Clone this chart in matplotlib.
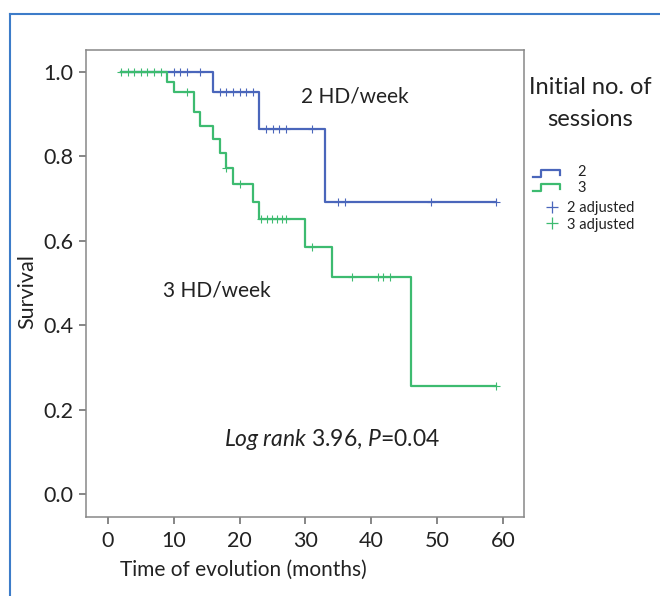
import numpy as np
import matplotlib
matplotlib.use("Agg")
import matplotlib.pyplot as plt
from matplotlib.lines import Line2D

# ---------------- data ----------------
blue_times = [2, 16, 23, 33, 59]
blue_surv = [1.0, 0.952, 0.866, 0.693, 0.693]
blue_censor = [10, 11, 12, 14, 17, 18, 19, 20, 21, 22, 24, 25, 26, 27, 31, 35, 36, 49, 59]

green_times = [2, 9, 10, 13, 14, 16, 17, 18, 19, 22, 23, 30, 34, 46, 59]
green_surv = [1.0, 0.976, 0.952, 0.905, 0.873, 0.841, 0.808, 0.772, 0.735, 0.692,
              0.651, 0.586, 0.513, 0.256, 0.256]
green_censor = [2, 3, 4, 5, 6, 7, 8, 12, 18, 20, 23.3, 24.1, 24.9, 25.7, 26.4, 27.1,
                31, 37, 41, 41.8, 42.9, 59]

x_ticks = [0, 10, 20, 30, 40, 50, 60]
y_ticks = [0.0, 0.2, 0.4, 0.6, 0.8, 1.0]
legend_labels = ["2", "3", "2 adjusted", "3 adjusted"]

BLUE = "#4a66bb"
GREEN = "#3dbb70"
TXT = "#222222"
FONT = "Lato"

plt.rcParams['font.family'] = [FONT, 'DejaVu Sans']
plt.rcParams['mathtext.fontset'] = 'custom'
plt.rcParams['mathtext.rm'] = FONT
plt.rcParams['mathtext.it'] = FONT + ':italic'

W, H = 660, 596
fig = plt.figure(figsize=(W / 100, H / 100), dpi=100)

def fx(px):
    return px / W

def fy(py):
    return 1 - py / H

ax = fig.add_axes([fx(86), fy(517), (524 - 86) / W, (517 - 50) / H])
ax.set_xlim(-3.34, 63.19)
ax.set_ylim(-0.0545, 1.052)

def surv_at(times, surv, t):
    idx = np.searchsorted(np.array(times), t, side='right') - 1
    return np.array(surv)[idx]

ax.step(blue_times, blue_surv, where='post', color=BLUE, lw=1.6, zorder=3)
ax.step(green_times, green_surv, where='post', color=GREEN, lw=1.6, zorder=4)
bc = np.array(blue_censor, dtype=float)
gc = np.array(green_censor, dtype=float)
ax.plot(bc, surv_at(blue_times, blue_surv, bc), ls='none', marker='+', ms=6, mew=0.8,
        color=BLUE, zorder=3)
ax.plot(gc, surv_at(green_times, green_surv, gc), ls='none', marker='+', ms=6, mew=0.8,
        color=GREEN, zorder=4)

ax.set_xticks(x_ticks)
ax.set_yticks(y_ticks)
ax.set_xticklabels([str(v) for v in x_ticks])
ax.set_yticklabels([f"{v:.1f}" for v in y_ticks])
for s in ax.spines.values():
    s.set_color("#888888")
    s.set_linewidth(1.1)
ax.tick_params(axis='both', colors="#666666", labelcolor=TXT, labelsize=15.5,
               length=5, width=1.1)
ax.tick_params(axis='y', pad=4)
ax.tick_params(axis='x', pad=5)

ax.text(37.5, 0.941, "2 HD/week", ha='center', va='center', fontsize=15, color=TXT)
ax.text(16.5, 0.483, "3 HD/week", ha='center', va='center', fontsize=15, color=TXT)
ax.text(34, 0.128, r"$\mathit{Log\;rank}$ 3.96, $\mathit{P}$=0.04", ha='center',
        va='center', fontsize=16.5, color=TXT)

fig.text(fx(27), fy(292), "Survival", rotation=90, ha='center', va='center',
         fontsize=15.5, color=TXT)
fig.text(fx(243), fy(570), "Time of evolution (months)", ha='center', va='center',
         fontsize=15, color=TXT)

# legend (drawn manually)
fig.text(fx(590), fy(94), "Initial no. of", ha='center', va='baseline', fontsize=17, color=TXT)
fig.text(fx(590), fy(126), "sessions", ha='center', va='baseline', fontsize=17, color=TXT)
for (lo, hi, col) in [(177, 170, BLUE), (191, 184, GREEN)]:
    xs = [533, 541, 541, 560, 560]
    ys = [lo, lo, hi, hi, hi + 5]
    fig.add_artist(Line2D([fx(v) for v in xs], [fy(v) for v in ys], color=col, lw=1.6,
                          transform=fig.transFigure))
for (py, col) in [(207, BLUE), (223, GREEN)]:
    fig.add_artist(Line2D([fx(551.5)], [fy(py)], marker='+', ms=8, mew=0.9, color=col,
                          ls='none', transform=fig.transFigure))
fig.text(fx(577), fy(172), legend_labels[0], ha='left', va='center', fontsize=10.5, color=TXT)
fig.text(fx(577), fy(188), legend_labels[1], ha='left', va='center', fontsize=10.5, color=TXT)
fig.text(fx(567), fy(208), legend_labels[2], ha='left', va='center', fontsize=10.5, color=TXT)
fig.text(fx(567), fy(225), legend_labels[3], ha='left', va='center', fontsize=10.5, color=TXT)

# blue frame
frame_col = "#3d7cc9"
fig.add_artist(Line2D([fx(10), fx(660)], [fy(14), fy(14)], color=frame_col, lw=1.5,
                      transform=fig.transFigure))
fig.add_artist(Line2D([fx(10), fx(10)], [fy(14), fy(596)], color=frame_col, lw=1.5,
                      transform=fig.transFigure))

fig.savefig("out.png", dpi=100)
